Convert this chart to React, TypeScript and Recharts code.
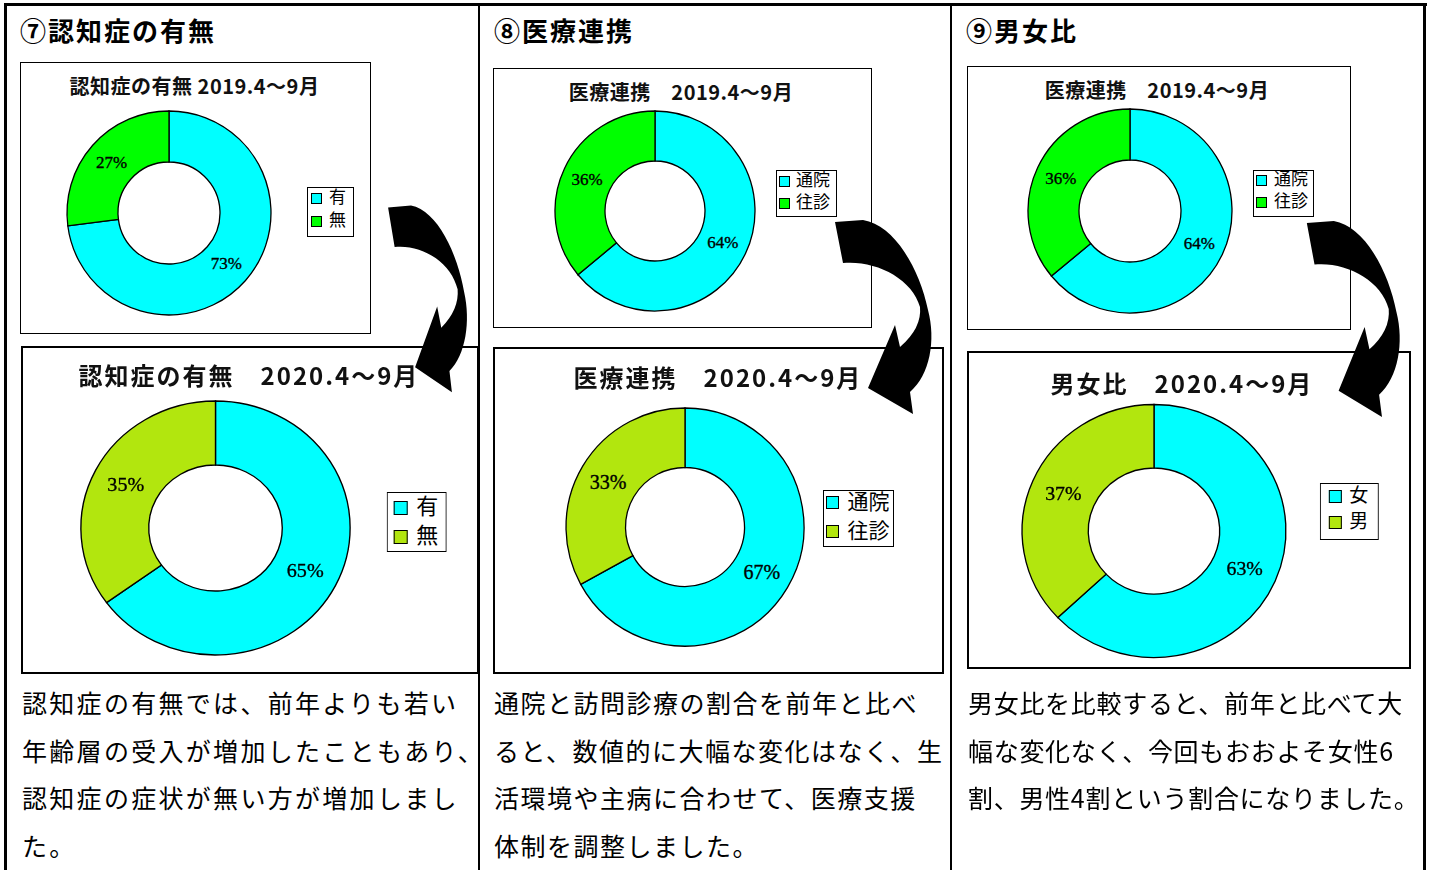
import React from 'react';
import { PieChart, Pie, Cell, Legend } from 'recharts';

const CYAN = '#00FFFF';
const GREEN = '#00FF00';
const LIME = '#B2E60E';

const headings = ['⑦認知症の有無', '⑧医療連携', '⑨男女比'];

const dementiaCategories = ['有', '無'];
const dementia2019 = [73, 27];
const dementia2020 = [65, 35];

const medicalCategories = ['通院', '往診'];
const medical2019 = [64, 36];
const medical2020 = [67, 33];

const panel9SmallCategories = ['通院', '往診'];
const panel9Small2019 = [64, 36];

const genderCategories = ['女', '男'];
const gender2020 = [63, 37];

const chartTitles = [
  '認知症の有無 2019.4～9月',
  '認知症の有無　2020.4～9月',
  '医療連携　2019.4～9月',
  '医療連携　2020.4～9月',
  '医療連携　2019.4～9月',
  '男女比　2020.4～9月',
];

const paragraph1 = ['認知症の有無では、前年よりも若い', '年齢層の受入が増加したこともあり、', '認知症の症状が無い方が増加しまし', 'た。'];
const paragraph2 = ['通院と訪問診療の割合を前年と比べ', 'ると、数値的に大幅な変化はなく、生', '活環境や主病に合わせて、医療支援', '体制を調整しました。'];
const paragraph3 = ['男女比を比較すると、前年と比べて大', '幅な変化なく、今回もおおよそ女性6', '割、男性4割という割合になりました。'];

const SANS = '"Noto Sans CJK JP", "Noto Sans", sans-serif';
const SERIF = '"Liberation Serif", "DejaVu Serif", "Noto Sans CJK JP", serif';

type Spec = {
  box: { l: number; t: number; w: number; h: number; bw: number };
  title: { text: string; cx: number; cy: number; size: number; ls: number };
  pie: { cx: number; cy: number; inner: number; outer: number; sx: number };
  labelSize: number;
  legend: { l: number; t: number; w: number; h: number; rows: number[]; swl: number; sw: number; txl: number; size: number };
  names: string[];
  values: number[];
  colors: string[];
};

const specs: Spec[] = [
  {
    box: { l: 20, t: 62, w: 351, h: 272, bw: 1.5 },
    title: { text: chartTitles[0], cx: 195, cy: 86, size: 20, ls: 0.5 },
    pie: { cx: 169, cy: 213, inner: 51, outer: 102, sx: 1 },
    labelSize: 17,
    legend: { l: 307, t: 187, w: 47, h: 50, rows: [199, 222], swl: 312, sw: 11, txl: 330, size: 17 },
    names: dementiaCategories, values: dementia2019, colors: [CYAN, GREEN],
  },
  {
    box: { l: 21, t: 346, w: 458, h: 328, bw: 2 },
    title: { text: chartTitles[1], cx: 249, cy: 375, size: 24, ls: 2 },
    pie: { cx: 215.5, cy: 528, inner: 63, outer: 127, sx: 1.06 },
    labelSize: 19,
    legend: { l: 387, t: 492, w: 60, h: 60, rows: [508, 537], swl: 394, sw: 14, txl: 417, size: 22 },
    names: dementiaCategories, values: dementia2020, colors: [CYAN, LIME],
  },
  {
    box: { l: 493, t: 68, w: 379, h: 260, bw: 1.5 },
    title: { text: chartTitles[2], cx: 681.5, cy: 92, size: 20, ls: 0.5 },
    pie: { cx: 655, cy: 211, inner: 50, outer: 100, sx: 1 },
    labelSize: 17,
    legend: { l: 776, t: 170, w: 61, h: 47, rows: [182, 204], swl: 780, sw: 11, txl: 797, size: 17 },
    names: medicalCategories, values: medical2019, colors: [CYAN, GREEN],
  },
  {
    box: { l: 493, t: 347, w: 451, h: 327, bw: 2 },
    title: { text: chartTitles[3], cx: 718, cy: 377, size: 24, ls: 2 },
    pie: { cx: 685, cy: 527, inner: 59.5, outer: 119, sx: 1 },
    labelSize: 20,
    legend: { l: 823, t: 490, w: 71, h: 57, rows: [503, 532], swl: 826, sw: 13, txl: 848, size: 21 },
    names: medicalCategories, values: medical2020, colors: [CYAN, LIME],
  },
  {
    box: { l: 967, t: 66, w: 384, h: 264, bw: 1.5 },
    title: { text: chartTitles[4], cx: 1157.5, cy: 90, size: 20, ls: 0.5 },
    pie: { cx: 1130, cy: 211, inner: 51, outer: 102, sx: 1 },
    labelSize: 17,
    legend: { l: 1253, t: 170, w: 61, h: 47, rows: [181, 203], swl: 1257, sw: 11, txl: 1275, size: 17 },
    names: panel9SmallCategories, values: panel9Small2019, colors: [CYAN, GREEN],
  },
  {
    box: { l: 967, t: 351, w: 444, h: 318, bw: 2 },
    title: { text: chartTitles[5], cx: 1182, cy: 383, size: 24, ls: 2 },
    pie: { cx: 1154, cy: 531, inner: 63, outer: 126.5, sx: 1.043 },
    labelSize: 19,
    legend: { l: 1320, t: 483, w: 59, h: 57, rows: [497, 523], swl: 1329, sw: 13, txl: 1350, size: 19 },
    names: genderCategories, values: gender2020, colors: [CYAN, LIME],
  },
];

function DonutChart({ spec }: { spec: Spec }) {
  const { box, title, pie, legend } = spec;
  const data = spec.names.map((name, i) => ({ name, value: spec.values[i] }));
  const W = box.w;
  const H = box.h;
  const pcx = pie.cx - box.l;
  const pcy = pie.cy - box.t;
  const sx = pie.sx;
  const legLeft = pcx + (legend.l - box.l - pcx) / sx;
  const legTop = legend.t - box.t;

  const renderLabel = (props: any) => {
    const { cx, cy, midAngle, innerRadius, outerRadius, index } = props;
    const r = (innerRadius + outerRadius) / 2;
    const rad = Math.PI / 180;
    const x = cx + r * Math.cos(-midAngle * rad);
    const y = cy + r * Math.sin(-midAngle * rad);
    return (
      <text x={x} y={y} textAnchor="middle" dominantBaseline="central" fontFamily={SERIF} fontSize={spec.labelSize} fill="#000" stroke="#000" strokeWidth={0.35}>
        {`${data[index].value}%`}
      </text>
    );
  };

  const legendContent = () => (
    <div style={{ position: 'relative', width: legend.w, height: legend.h, boxSizing: 'border-box', border: '1.5px solid #000', background: '#fff' }}>
      {spec.names.map((n, i) => (
        <React.Fragment key={n}>
          <div style={{ position: 'absolute', left: legend.swl - legend.l - 1.5, top: legend.rows[i] - legend.t - legend.sw / 2 - 1.5, width: legend.sw, height: legend.sw, boxSizing: 'border-box', border: '1px solid #000', background: spec.colors[i] }} />
          <div style={{ position: 'absolute', left: legend.txl - legend.l - 1.5, top: legend.rows[i] - legend.t - legend.size * 0.65 - 1.5, height: legend.size * 1.3, lineHeight: `${legend.size * 1.3}px`, fontSize: legend.size, fontFamily: SERIF, color: '#000', whiteSpace: 'nowrap' }}>{n}</div>
        </React.Fragment>
      ))}
    </div>
  );

  return (
    <div style={{ position: 'absolute', left: box.l, top: box.t, width: W, height: H, border: `${box.bw}px solid #000`, boxSizing: 'border-box', background: '#fff' }}>
      <div style={{ position: 'absolute', left: -box.bw, top: -box.bw, width: W, height: H, transform: `scaleX(${sx})`, transformOrigin: `${pcx}px ${pcy}px` }}>
        <PieChart width={W} height={H} margin={{ top: 0, right: 0, bottom: 0, left: 0 }}>
          <Pie
            data={data}
            dataKey="value"
            nameKey="name"
            cx={pcx}
            cy={pcy}
            innerRadius={pie.inner}
            outerRadius={pie.outer}
            startAngle={90}
            endAngle={-270}
            stroke="#000"
            strokeWidth={1.3}
            label={renderLabel}
            labelLine={false}
            isAnimationActive={false}
          >
            {data.map((d, i) => (
              <Cell key={d.name} fill={spec.colors[i]} />
            ))}
          </Pie>
          <Legend
            layout="vertical"
            align="right"
            verticalAlign="middle"
            wrapperStyle={{ left: legLeft, top: legTop, width: legend.w, height: legend.h, transform: `scaleX(${1 / sx})`, transformOrigin: '0 0' }}
            content={legendContent}
          />
        </PieChart>
      </div>
      <div
        style={{
          position: 'absolute',
          left: title.cx - box.l - box.bw - 250,
          width: 500,
          top: title.cy - box.t - box.bw - title.size * 0.7,
          height: title.size * 1.4,
          lineHeight: `${title.size * 1.4}px`,
          textAlign: 'center',
          whiteSpace: 'nowrap',
          fontFamily: SANS,
          fontWeight: 700,
          fontSize: title.size,
          letterSpacing: title.ls,
          color: '#111',
        }}
      >
        {title.text}
      </div>
    </div>
  );
}

const ARROW_PATH = 'M 5 12 L 13 53 C 45 50, 82 68, 90 97 Q 92 118, 70 137 L 65 115 L 38 178 L 83 204 L 80 182 C 100 165, 106 130, 98 100 C 90 60, 65 15, 33 10 Z';

function Arrow({ l, t, w, h }: { l: number; t: number; w: number; h: number }) {
  return (
    <svg style={{ position: 'absolute', left: l, top: t }} width={w} height={h} viewBox="0 0 110 210" preserveAspectRatio="none">
      <path d={ARROW_PATH} fill="#000" />
    </svg>
  );
}

const headingLefts = [20, 494, 966];
const paragraphCols = [
  { left: 22, lines: paragraph1, ls: 2.3 },
  { left: 494, lines: paragraph2, ls: 1.5 },
  { left: 968, lines: paragraph3, ls: 0.7 },
];

export default function App() {
  return (
    <div style={{ position: 'absolute', left: 0, top: 0, width: 1434, height: 870, background: '#fff', overflow: 'hidden' }}>
      <div style={{ position: 'absolute', left: 4, top: 3, width: 1423, height: 3, background: '#000' }} />
      <div style={{ position: 'absolute', left: 4, top: 3, width: 3, height: 867, background: '#000' }} />
      <div style={{ position: 'absolute', left: 478, top: 3, width: 2, height: 867, background: '#000' }} />
      <div style={{ position: 'absolute', left: 950, top: 3, width: 2, height: 867, background: '#000' }} />
      <div style={{ position: 'absolute', left: 1423, top: 3, width: 3, height: 867, background: '#000' }} />

      {headings.map((h, i) => (
        <div key={h} style={{ position: 'absolute', left: headingLefts[i], top: 12, height: 36, lineHeight: '36px', fontFamily: SANS, fontWeight: 700, fontSize: 26, letterSpacing: 2, color: '#000', whiteSpace: 'nowrap' }}>
          {h}
        </div>
      ))}

      {specs.map((s, i) => (
        <DonutChart key={i} spec={s} />
      ))}

      {paragraphCols.map((c, i) => (
        <div key={i} style={{ position: 'absolute', left: c.left, top: 679, fontFamily: SANS, fontSize: 25, lineHeight: '47.7px', letterSpacing: c.ls, color: '#000', whiteSpace: 'nowrap' }}>
          {c.lines.map((ln) => (
            <div key={ln}>{ln}</div>
          ))}
        </div>
      ))}

      <Arrow l={384} t={195.5} w={90} h={202} />
      <Arrow l={830} t={210} w={110} h={210} />
      <Arrow l={1302} t={211} w={106} h={212} />
    </div>
  );
}
